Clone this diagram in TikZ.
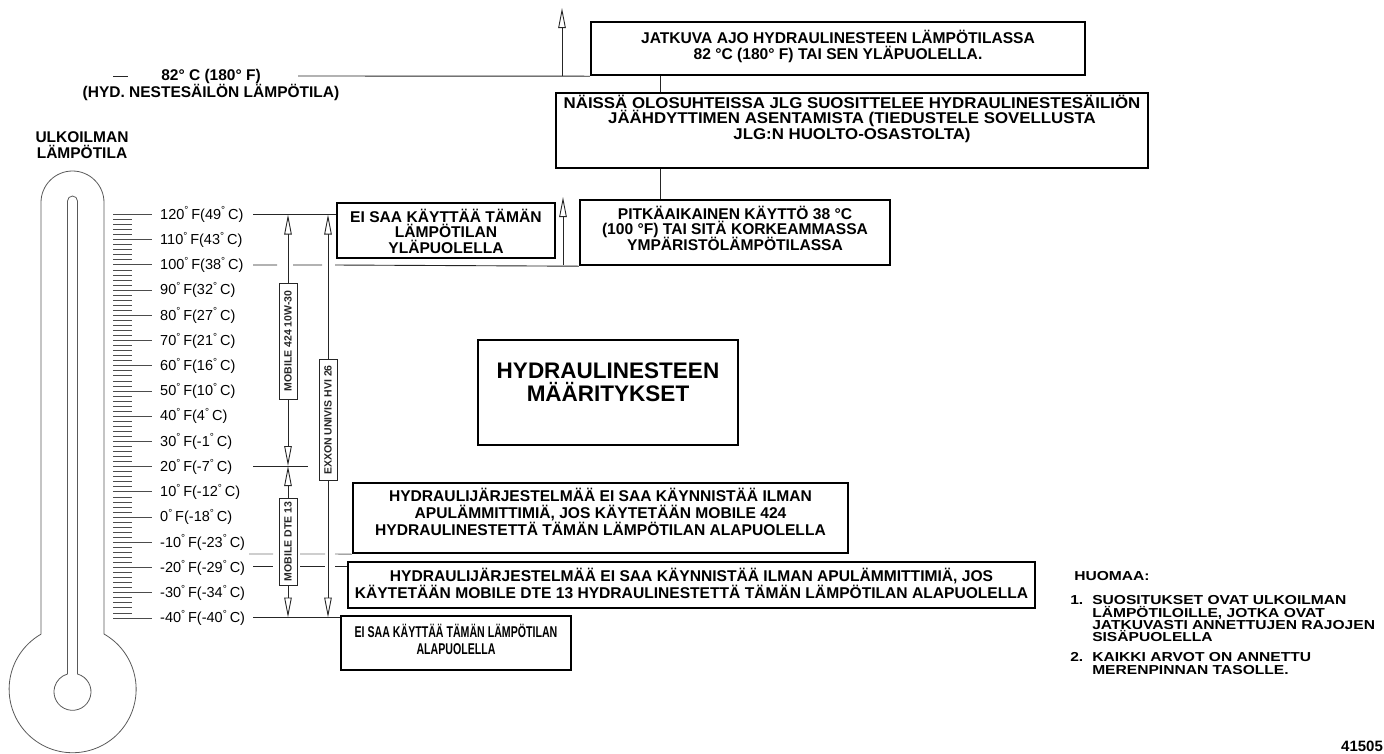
\documentclass[tikz,border=0pt]{standalone}
\usepackage{fontspec}
\setmainfont{Liberation Sans}
\usetikzlibrary{arrows.meta,positioning,calc}

\newcommand{\dg}{\textsuperscript{°}\,}
\newcommand{\tightlines}{\lineskiplimit=-20pt\lineskip=0pt}

\tikzset{
  thinline/.style={line width=0.9pt, black!85},
  thermo/.style={line width=0.8pt, black!65},
  tick/.style={line width=0.9pt, black!70},
  boxframe/.style={draw, line width=2.4pt, inner sep=0pt},
  boxtext/.style={align=center, inner sep=0pt, font=\bfseries\fontsize{15.6}{15.5}\selectfont\tightlines},
  lowtext/.style={boxtext, font=\bfseries\fontsize{15.6}{17}\selectfont\tightlines},
  openarrow/.style={thinline, -{Triangle[open, length=20pt, width=7.5pt]}},
  oillabel/.style={draw, thinline, fill=white, rotate=90, inner sep=0pt, minimum height=18pt,
    font=\bfseries\fontsize{10.5}{10.5}\selectfont},
  templabel/.style={anchor=west, inner sep=0pt, font=\fontsize{14.5}{14.5}\selectfont},
  notetext/.style={inner sep=0pt, xscale=1.2, align=left, anchor=north west,
    font=\bfseries\fontsize{13}{12.3}\selectfont\tightlines},
}

\begin{document}
\begin{tikzpicture}[x=1pt, y=-1pt]
\useasboundingbox (0,0) rectangle (1384,753);

% thermometer
\draw[thermo] (41,634) -- (41,202.5) arc[start angle=180, end angle=0, radius=31.5pt]
  -- (104,634) arc[start angle=60.4, end angle=-240.4, radius=63.5pt];
\draw[thermo] (67.5,674) -- (67.5,201) arc[start angle=180, end angle=0, radius=5pt]
  -- (77.5,674) arc[start angle=74.3, end angle=-254.3, radius=18.5pt];

% scale
\foreach \i in {0,...,80}
  \draw[tick] (113,214.5+5.044*\i) -- +(19,0);
\foreach \f/\c [count=\k from 0] in {120/49,110/43,100/38,90/32,80/27,70/21,60/16,50/10,40/4,
    30/-1,20/-7,10/-12,0/-18,-10/-23,-20/-29,-30/-34,-40/-40}{
  \draw[tick] (113,214.5+25.22*\k) -- +(39,0);
  \node[templabel] (t\k) at (160,214.5+25.22*\k) {\f\dg F(\c\dg C)};
}

\node[align=center, inner sep=0pt, font=\bfseries\fontsize{15.5}{16}\selectfont\tightlines] (ulko) at (82,145)
  {ULKOILMAN\\LÄMPÖTILA};

% tank temperature
\node[align=center, inner sep=0pt, font=\bfseries\fontsize{15.5}{16.5}\selectfont\tightlines] (tank) at (211,85)
  {82° C (180° F)\\(HYD. NESTESÄILÖN LÄMPÖTILA)};
\coordinate (tankL) at (113,76);
\coordinate (tankR) at (298,76);
\coordinate (upA) at (562,76);
\draw[thinline] (tankL) -- +(15,0);

% boxes
\node[boxframe, minimum width=494pt, minimum height=53pt] (jatkuva) at (838,48.5) {};
\node[boxtext] (jatkuva-t) at (838,46.5) {JATKUVA AJO HYDRAULINESTEEN LÄMPÖTILASSA\\82 °C (180° F) TAI SEN YLÄPUOLELLA.};
\node[boxframe, minimum width=592pt, minimum height=75pt] (naissa) at (852,130.5) {};
\node[boxtext, xscale=1.08] (naissa-t) at (852,118.5) {NÄISSÄ OLOSUHTEISSA JLG SUOSITTELEE HYDRAULINESTESÄILIÖN\\JÄÄHDYTTIMEN ASENTAMISTA (TIEDUSTELE SOVELLUSTA\\JLG:N HUOLTO-OSASTOLTA)};
\node[boxframe, minimum width=310pt, minimum height=65pt] (pitka) at (735,232.5) {};
\node[boxtext] (pitka-t) at (735,228) {PITKÄAIKAINEN KÄYTTÖ 38 °C\\(100 °F) TAI SITÄ KORKEAMMASSA\\YMPÄRISTÖLÄMPÖTILASSA};
\node[boxframe, minimum width=218pt, minimum height=55pt] (eisaa) at (446,230.5) {};
\node[boxtext] (eisaa-t) at (446,231) {EI SAA KÄYTTÄÄ TÄMÄN\\LÄMPÖTILAN\\YLÄPUOLELLA};
\node[boxframe, minimum width=260pt, minimum height=105pt] (title) at (608,392.5) {};
\node[boxtext, font=\bfseries\fontsize{22.5}{23}\selectfont\tightlines] (title-t) at (608,382) {HYDRAULINESTEEN\\MÄÄRITYKSET};
\node[boxframe, minimum width=495pt, minimum height=70pt] (apu424) at (600.5,518) {};
\node[lowtext] (apu424-t) at (600.5,512) {HYDRAULIJÄRJESTELMÄÄ EI SAA KÄYNNISTÄÄ ILMAN\\APULÄMMITTIMIÄ, JOS KÄYTETÄÄN MOBILE 424\\HYDRAULINESTETTÄ TÄMÄN LÄMPÖTILAN ALAPUOLELLA};
\node[boxframe, minimum width=687pt, minimum height=46pt] (apudte) at (691.5,585) {};
\node[lowtext] (apudte-t) at (691.5,583.5) {HYDRAULIJÄRJESTELMÄÄ EI SAA KÄYNNISTÄÄ ILMAN APULÄMMITTIMIÄ, JOS\\KÄYTETÄÄN MOBILE DTE 13 HYDRAULINESTETTÄ TÄMÄN LÄMPÖTILAN ALAPUOLELLA};
\node[boxframe, minimum width=230pt, minimum height=54pt] (eisaaala) at (456,643) {};
\node[lowtext, xscale=0.68] (eisaaala-t) at (456,639) {EI SAA KÄYTTÄÄ TÄMÄN LÄMPÖTILAN\\ALAPUOLELLA};

% tank line and links
\draw[thinline] (tankR) -- (jatkuva.south west);
\draw[openarrow] (upA) -- (562,8);
\coordinate (vlink) at (660,0);
\draw[thinline] (jatkuva.south -| vlink) -- (naissa.north -| vlink);
\draw[thinline] (naissa.south -| vlink) -- (pitka.north -| vlink);

% temperature limit lines
\coordinate (l120) at (253,214.5);
\coordinate (l100) at (253,265);
\coordinate (l20) at (253,466);
\coordinate (lm15) at (249,554);
\coordinate (lm20) at (253,566);
\coordinate (l40) at (253,617.5);
\draw[thinline] (l120) -- (l120 -| eisaa.west);
\draw[thinline] (l100) -- +(24,0) (293,265) -- (322,265) (335,265) -- (pitka.south west);
\draw[openarrow] (563,265) -- (563,197);
\draw[thinline] (l20) -- +(55,0);
\draw[thinline, black!55] (lm15) -- (273,554) (300,554) -- (325,554) (335,554) -- (apu424.south west);
\draw[thinline] (lm20) -- (273,566) (300,566) -- (325,566) (335,566) -- (lm20 -| apudte.west);
\draw[thinline] (l40) -- (l40 -| eisaaala.west);

% oil ranges
\node[oillabel, minimum width=116pt] (mob424) at (288,341) {MOBILE 424 10W-30};
\node[oillabel, minimum width=87pt] (dte13) at (288,541.5) {MOBILE DTE 13};
\node[oillabel, minimum width=121pt] (exxon) at (328,420) {EXXON UNIVIS HVI 26};
\draw[openarrow] (mob424.east) -- (mob424.east |- l120);
\draw[openarrow] (mob424.west) -- (mob424.west |- l20);
\draw[openarrow] (dte13.east) -- (dte13.east |- l20);
\draw[openarrow] (dte13.west) -- (dte13.west |- l40);
\draw[openarrow] (exxon.east) -- (exxon.east |- l120);
\draw[openarrow] (exxon.west) -- (exxon.west |- l40);

% notes
\node[notetext] (huom) at (1074,571) {HUOMAA:};
\node[notetext] (n1) at (1070,595.5) {1.};
\node[notetext] (n1t) at (1092,595.5) {SUOSITUKSET OVAT ULKOILMAN\\LÄMPÖTILOILLE, JOTKA OVAT\\JATKUVASTI ANNETTUJEN RAJOJEN\\SISÄPUOLELLA};
\node[notetext] (n2) at (1070,652.5) {2.};
\node[notetext] (n2t) at (1092,652.5) {KAIKKI ARVOT ON ANNETTU\\MERENPINNAN TASOLLE.};
\node[anchor=west, inner sep=0pt, font=\bfseries\fontsize{15}{15}\selectfont] (fig) at (1341,746) {41505};
\end{tikzpicture}
\end{document}
